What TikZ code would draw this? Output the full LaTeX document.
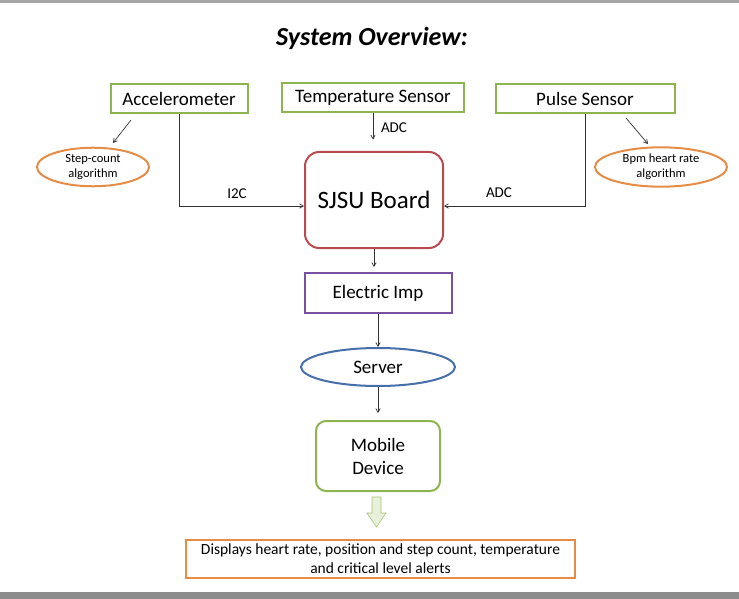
\documentclass[tikz,border=0pt]{standalone}
\usepackage{fontspec}
\setmainfont{Carlito}
\usetikzlibrary{arrows, shapes, positioning, calc}

\definecolor{boxgreen}{RGB}{140,180,80}
\definecolor{boxred}{RGB}{185,75,80}
\definecolor{boxviolet}{RGB}{120,80,160}
\definecolor{boxblue}{RGB}{70,110,170}
\definecolor{boxorange}{RGB}{230,140,70}

\tikzset{
    sensor/.style={draw=boxgreen, line width=2pt, minimum height=29pt, font=\fontsize{19}{21}\selectfont},
    algo/.style={draw=boxorange, ellipse, line width=2pt, minimum width=112pt, minimum height=36pt, align=center, inner sep=1pt, font=\fontsize{12.5}{15}\selectfont},
    link/.style={->, >=angle 60, line width=0.7pt, black!80},
    lbl/.style={font=\fontsize{15}{17}\selectfont}
}

\begin{document}
\begin{tikzpicture}[x=1pt, y=-1pt]
                        \useasboundingbox (0,0) rectangle (739,599);
                        \fill[black!35] (0,0) rectangle (739,3);
                        \fill[black!45] (0,592) rectangle (739,599);

                        \node[font=\fontsize{26}{28}\selectfont\bfseries\itshape] (title) at (372,38) {System Overview:};

                        \node[sensor, minimum width=137pt] (acc) at (179,99) {Accelerometer};
                        \node[sensor, minimum width=182pt] (temp) at (373,98) {Temperature Sensor};
                        \node[sensor, minimum width=179pt] (pulse) at (585,99) {Pulse Sensor};

                        \node[algo] (step) at (93,167) {Step-count\\algorithm};
                        \node[algo, minimum width=132pt] (bpm) at (661,167) {Bpm heart rate\\algorithm};

                        \node[draw=boxred, line width=2pt, rounded corners=14pt, minimum width=138pt, minimum height=96pt,
                              font=\fontsize{25}{28}\selectfont] (board) at (374,200) {SJSU Board};
                        \node[draw=boxviolet, line width=2pt, minimum width=147pt, minimum height=40pt,
                              font=\fontsize{19}{21}\selectfont] (imp) at (378,293) {Electric Imp};
                        \node[draw=boxblue, ellipse, line width=2pt, minimum width=154pt, minimum height=38pt,
                              font=\fontsize{19}{21}\selectfont] (server) at (378,367) {Server};
                        \node[draw=boxgreen, line width=2pt, rounded corners=10pt, minimum width=124pt, minimum height=70pt,
                              align=center, font=\fontsize{19}{23}\selectfont] (mobile) at (378,456) {Mobile\\Device};
                        \node[draw=boxorange, line width=2pt, minimum width=389pt, minimum height=38pt, inner sep=1pt,
                              align=center, font=\fontsize{15.5}{19}\selectfont] (disp) at (380.5,559)
                              {Displays heart rate, position and step count, temperature\\and critical level alerts};

                        \coordinate (accdown) at (179,206);
                        \coordinate (pulsedown) at (585,206);

                        \draw[link] (131,120) -- (113,143);
                        \draw[link] (626,118) -- (648,144);
                        \draw[link] (acc.south) -- (accdown) -- (board.west |- accdown);
                        \draw[link] (pulse.south) -- (pulsedown) -- (board.east |- pulsedown);
                        \draw[link] (temp.south) -- ++(0,26);
                        \draw[link] (board.south) -- ++(0,18);
                        \draw[link] (imp.south) -- (server.north);
                        \draw[link] (server.south) -- ++(0,26);

                        \node[lbl] (i2c) at (237,194) {I2C};
                        \node[lbl] (adct) at (394,128) {ADC};
                        \node[lbl] (adcp) at (499,193) {ADC};

                        \draw[draw=boxgreen!80, fill=boxgreen!20, line width=0.6pt]
                        (372,497) -- (381,497) -- (381,513) -- (386,513) -- (376.5,527) -- (367,513) -- (372,513) -- cycle;
                    \end{tikzpicture}
\end{document}
